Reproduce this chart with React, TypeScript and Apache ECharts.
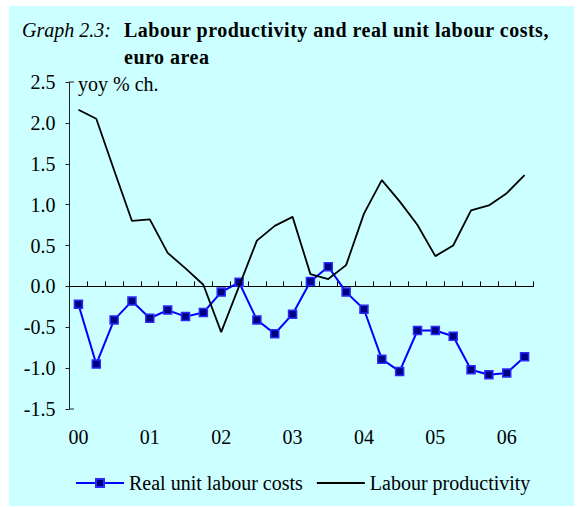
import React, { useEffect, useRef } from "react";
import * as echarts from "echarts";

const quarters: string[] = [
  "2000Q1","2000Q2","2000Q3","2000Q4",
  "2001Q1","2001Q2","2001Q3","2001Q4",
  "2002Q1","2002Q2","2002Q3","2002Q4",
  "2003Q1","2003Q2","2003Q3","2003Q4",
  "2004Q1","2004Q2","2004Q3","2004Q4",
  "2005Q1","2005Q2","2005Q3","2005Q4",
  "2006Q1","2006Q2",
];

const realUnitLabourCosts: number[] = [
  -0.22, -0.95, -0.41, -0.18, -0.39, -0.29, -0.37, -0.32,
  -0.07, 0.05, -0.41, -0.58, -0.34, 0.06, 0.24, -0.07,
  -0.28, -0.89, -1.04, -0.54, -0.54, -0.61, -1.02, -1.08,
  -1.06, -0.86,
];

const labourProductivity: number[] = [
  2.16, 2.05, 1.42, 0.8, 0.82, 0.41, 0.22, 0.02,
  -0.56, 0.0, 0.56, 0.74, 0.85, 0.15, 0.09, 0.26,
  0.89, 1.3, 1.04, 0.75, 0.37, 0.5, 0.93, 0.99,
  1.14, 1.36,
];

const yTicks = { min: -1.5, max: 2.5, interval: 0.5 };

const FONT = "Liberation Serif";

export default function App() {
  const ref = useRef<HTMLDivElement>(null);

  useEffect(() => {
    if (!ref.current) return;
    const chart = echarts.init(ref.current, undefined, { renderer: "svg" });
    chart.setOption({
      animation: false,
      backgroundColor: "#ffffff",
      textStyle: { fontFamily: FONT, color: "#000" },
      graphic: [
        {
          type: "rect",
          z: -100,
          silent: true,
          shape: { x: 9, y: 6, width: 565, height: 500 },
          style: { fill: "#ccffff" },
        },
        {
          type: "text",
          x: 22,
          y: 30,
          style: {
            text: "Graph 2.3:",
            fontFamily: FONT,
            fontSize: 20,
            fontStyle: "italic",
            fill: "#000",
            verticalAlign: "middle",
          },
        },
        {
          type: "text",
          x: 124,
          y: 30,
          style: {
            text: "Labour productivity and real unit labour costs,",
            fontFamily: FONT,
            fontSize: 20,
            fontWeight: "bold",
            fill: "#000",
            verticalAlign: "middle",
          },
        },
        {
          type: "text",
          x: 124,
          y: 57,
          style: {
            text: "euro area",
            fontFamily: FONT,
            fontSize: 20,
            fontWeight: "bold",
            fill: "#000",
            verticalAlign: "middle",
          },
        },
        {
          type: "text",
          x: 78,
          y: 84,
          style: {
            text: "yoy % ch.",
            fontFamily: FONT,
            fontSize: 20,
            fill: "#000",
            verticalAlign: "middle",
          },
        },
        {
          type: "line",
          shape: { x1: 69.5, y1: 82, x2: 74, y2: 82 },
          style: { stroke: "#222", lineWidth: 1 },
        },
        {
          type: "line",
          shape: { x1: 69.5, y1: 409, x2: 74, y2: 409 },
          style: { stroke: "#222", lineWidth: 1 },
        },
      ],
      legend: {
        left: 70,
        top: 468,
        itemWidth: 48,
        itemHeight: 10,
        itemGap: 13,
        textStyle: { fontFamily: FONT, fontSize: 20, color: "#000" },
        data: ["Real unit labour costs", "Labour productivity"],
      },
      grid: { left: 69.5, top: 82, width: 464, height: 327, containLabel: false },
      xAxis: [
        {
          type: "category",
          data: quarters,
          boundaryGap: true,
          axisLine: { show: true, onZero: true, lineStyle: { color: "#000", width: 1.2 } },
          axisTick: { show: true, inside: true, length: 5, interval: 0, lineStyle: { color: "#000" } },
          axisLabel: { show: false },
          splitLine: { show: false },
        },
        {
          type: "category",
          data: quarters,
          position: "bottom",
          boundaryGap: true,
          axisLine: { show: false, onZero: false },
          axisTick: { show: false },
          axisLabel: {
            show: true,
            interval: 3,
            margin: 18,
            fontFamily: FONT,
            fontSize: 20,
            color: "#000",
            formatter: (v: string) => v.slice(2, 4),
          },
          splitLine: { show: false },
        },
      ],
      yAxis: {
        type: "value",
        min: yTicks.min,
        max: yTicks.max,
        interval: yTicks.interval,
        axisLine: { show: true, lineStyle: { color: "#222", width: 1 } },
        axisTick: { show: true, inside: false, length: 4, lineStyle: { color: "#222" } },
        axisLabel: {
          margin: 14,
          fontFamily: FONT,
          fontSize: 20,
          color: "#000",
          formatter: (v: number) => v.toFixed(1),
        },
        splitLine: { show: false },
      },
      series: [
        {
          name: "Real unit labour costs",
          type: "line",
          xAxisIndex: 0,
          data: realUnitLabourCosts,
          symbol: "rect",
          symbolSize: 8,
          lineStyle: { color: "#0000ff", width: 2 },
          itemStyle: { color: "#000080", borderColor: "#2a2aff", borderWidth: 1.5 },
          z: 2,
        },
        {
          name: "Labour productivity",
          type: "line",
          xAxisIndex: 0,
          data: labourProductivity,
          symbol: "none",
          showSymbol: false,
          lineStyle: { color: "#000000", width: 1.8 },
          itemStyle: { color: "rgba(0,0,0,0)", borderWidth: 0 },
          z: 3,
        },
      ],
    });
    return () => chart.dispose();
  }, []);

  return (
    <>
      <style>{`#chart text[style*="bold"]{letter-spacing:0.5px;}`}</style>
      <div
        id="chart"
        ref={ref}
        style={{ position: "fixed", left: 0, top: 0, width: 580, height: 507 }}
      />
    </>
  );
}
